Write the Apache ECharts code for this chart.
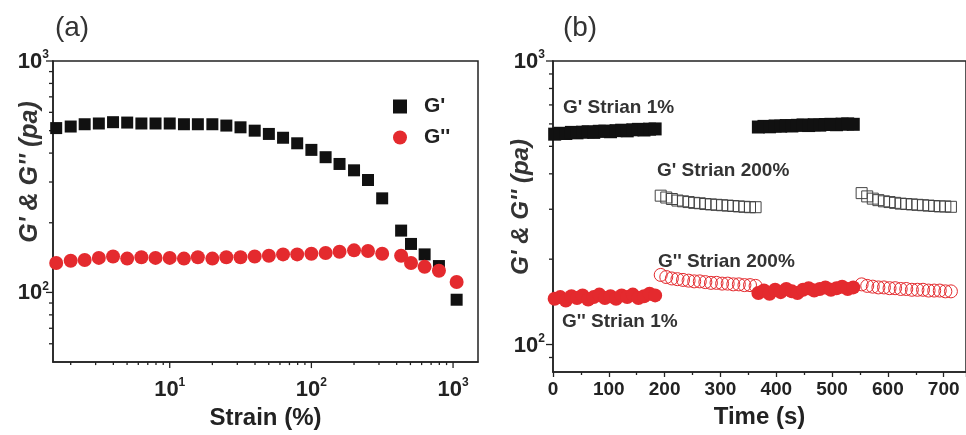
<!DOCTYPE html>
<html>
<head>
  <meta charset="utf-8" />
  <title>G' and G'' sweeps</title>
  <script src="https://cdn.jsdelivr.net/npm/echarts@6/dist/echarts.min.js"></script>
  <style>
    html, body { margin: 0; padding: 0; background: #fff; }
    #main { width: 966px; height: 435px; }
  </style>
</head>
<body>
  <div id="main"></div>
  <script type="text/javascript">
    // (a) strain sweep
    var strain = [1.58, 2.0, 2.51, 3.16, 3.98, 5.01, 6.31, 7.94, 10, 12.6, 15.8, 20, 25.1, 31.6, 39.8, 50.1, 63.1, 79.4, 100, 126, 158, 200, 251, 316, 430, 505, 630, 795, 1060];
    var gStorage = [513, 521, 533, 537, 544, 542, 537, 537, 537, 533, 533, 533, 526, 517, 500, 484, 466, 441, 413, 384, 359, 337, 306, 255, 185, 162, 146, 130, 93];
    var gLoss = [134, 137, 138, 141, 143, 140, 142, 141, 141, 140, 142, 140, 142, 142, 143, 144, 146, 146, 147, 148, 150, 152, 151, 147, 144, 134, 129, 124, 111];

    // (b) step strain, time in s
    var tSeg1 = [3, 13, 23, 33, 43, 53, 63, 73, 83, 93, 103, 113, 123, 133, 143, 153, 163, 173, 183];
    var tSeg2 = [193, 203, 213, 223, 233, 243, 253, 263, 273, 283, 293, 303, 313, 323, 333, 343, 353, 363];
    var tSeg3 = [368, 378, 388, 398, 408, 418, 428, 438, 448, 458, 468, 478, 488, 498, 508, 518, 528, 538];
    var tSeg4 = [553, 563, 573, 583, 593, 603, 613, 623, 633, 643, 653, 663, 673, 683, 693, 703, 713];

    var gp1a = [552, 556, 555, 560, 558, 561, 563, 560, 565, 566, 563, 568, 570, 567, 572, 574, 571, 575, 576];
    var gp200a = [335, 330, 326, 322, 320, 318, 316, 315, 313, 312, 311, 310, 309, 308, 307, 306, 305, 305];
    var gp1b = [585, 588, 586, 590, 589, 592, 590, 593, 595, 592, 596, 594, 597, 598, 596, 599, 600, 598];
    var gp200b = [342, 333, 327, 323, 320, 318, 316, 314, 313, 312, 311, 310, 309, 308, 307, 307, 306];

    var gpp1a = [145, 147, 143, 148, 146, 149, 144, 147, 150, 146, 148, 145, 149, 147, 150, 146, 148, 151, 149];
    var gpp200a = [176, 173, 171, 170, 169, 168, 167, 167, 166, 165, 165, 164, 164, 163, 163, 162, 162, 161];
    var gpp1b = [152, 155, 151, 156, 153, 157, 154, 152, 156, 158, 155, 157, 159, 156, 158, 160, 157, 159];
    var gpp200b = [163, 161, 160, 159, 159, 158, 158, 157, 157, 156, 156, 156, 155, 155, 155, 154, 154];

    // log axis ticks (drawn by hand, echarts log minor ticks are linear)
    var majorA_x = [10, 100, 1000];
    var minorA_x = [2, 3, 4, 5, 6, 7, 8, 9, 20, 30, 40, 50, 60, 70, 80, 90, 200, 300, 400, 500, 600, 700, 800, 900];
    var majorA_y = [100, 1000];
    var minorA_y = [60, 70, 80, 90, 200, 300, 400, 500, 600, 700, 800, 900];
    var majorB_y = [100, 1000];
    var minorB_y = [90, 200, 300, 400, 500, 600, 700, 800, 900];

    var FONT = '"Liberation Sans", Arial, sans-serif';
    var RED = '#e42a2e';

    function zip(xs, ys) {
      return xs.map(function (x, i) { return [x, ys[i]]; });
    }

    // tick item: [x, y, length, dir]  dir 0 = down, 1 = left
    function tickItems(vals, at, len, isX) {
      return vals.map(function (v) { return isX ? [v, at, len, 0] : [at, v, len, 1]; });
    }

    function renderTick(params, api) {
      var p = api.coord([api.value(0), api.value(1)]);
      var len = api.value(2);
      var down = api.value(3) === 0;
      return {
        type: 'line',
        shape: down ? {x1: p[0], y1: p[1], x2: p[0], y2: p[1] + len} : {x1: p[0], y1: p[1], x2: p[0] - len, y2: p[1]},
        style: {stroke: '#222', lineWidth: 1.3}
      };
    }

    function powLabel(v) {
      var n = Math.round(Math.log(v) / Math.LN10);
      return '{b|10}{s|' + n + '}';
    }
    var powRich = {
      b: {fontSize: 22, fontWeight: 'bold', fontFamily: FONT, color: '#222', verticalAlign: 'bottom', lineHeight: 24},
      s: {fontSize: 12, fontWeight: 'bold', fontFamily: FONT, color: '#222', verticalAlign: 'top', lineHeight: 24}
    };

    function filled(color) { return {color: color, opacity: 1}; }
    function hollow(color) { return {color: 'rgba(0,0,0,0)', borderColor: color, borderWidth: 1, opacity: 1}; }

    var myChart = echarts.init(document.getElementById('main'), null, {renderer: 'canvas'});

    var option = {
      animation: false,
      backgroundColor: '#fff',
      grid: [
        {left: 53, top: 61, width: 425, height: 311, show: true, borderColor: '#222', borderWidth: 1.5, backgroundColor: 'transparent'},
        {left: 553, top: 61, width: 418, height: 311, show: true, borderColor: '#222', borderWidth: 1.5, backgroundColor: 'transparent'}
      ],
      xAxis: [
        {
          type: 'log', gridIndex: 0, min: 1.5, max: 1500, logBase: 10,
          name: 'Strain (%)', nameLocation: 'middle', nameGap: 39,
          nameTextStyle: {fontSize: 24, fontWeight: 'bold', fontFamily: FONT, color: '#222'},
          axisLine: {lineStyle: {color: '#222', width: 1.5}},
          axisTick: {show: false}, splitLine: {show: false},
          axisLabel: {margin: 15, showMinLabel: false, showMaxLabel: false, formatter: powLabel, rich: powRich}
        },
        {
          type: 'value', gridIndex: 1, min: 0, max: 740, interval: 100,
          name: 'Time (s)', nameLocation: 'middle', nameGap: 33,
          nameTextStyle: {fontSize: 24, fontWeight: 'bold', fontFamily: FONT, color: '#222'},
          axisLine: {lineStyle: {color: '#222', width: 1.5}},
          axisTick: {length: 5, lineStyle: {color: '#222', width: 1.3}},
          minorTick: {show: true, splitNumber: 2, length: 3, lineStyle: {color: '#222', width: 1.3}},
          splitLine: {show: false},
          axisLabel: {margin: 8, showMaxLabel: false, fontSize: 19, fontWeight: 'bold', fontFamily: FONT, color: '#222'}
        }
      ],
      yAxis: [
        {
          type: 'log', gridIndex: 0, min: 50, max: 1000, logBase: 10,
          axisLine: {lineStyle: {color: '#222', width: 1.5}},
          axisTick: {show: false}, splitLine: {show: false},
          axisLabel: {margin: 4, showMinLabel: false, formatter: powLabel, rich: powRich}
        },
        {
          type: 'log', gridIndex: 1, min: 80, max: 1000, logBase: 10,
          axisLine: {lineStyle: {color: '#222', width: 1.5}},
          axisTick: {show: false}, splitLine: {show: false},
          axisLabel: {margin: 8, showMinLabel: false, formatter: powLabel, rich: powRich}
        }
      ],
      legend: {
        data: ["G'", "G''"], orient: 'vertical', left: 388, top: 91, itemGap: 10,
        itemWidth: 14, itemHeight: 14,
        textStyle: {fontSize: 21, fontWeight: 'bold', fontFamily: FONT, color: '#222', padding: [0, 0, 0, 12]}
      },
      graphic: [
        {type: 'text', x: 72, y: 28, style: {text: '(a)', font: '28px ' + FONT, fill: '#333', textAlign: 'center', textVerticalAlign: 'middle'}},
        {type: 'text', x: 580, y: 28, style: {text: '(b)', font: '28px ' + FONT, fill: '#333', textAlign: 'center', textVerticalAlign: 'middle'}},
        {type: 'text', x: 30, y: 172, rotation: Math.PI / 2, style: {text: "G' & G'' (pa)", font: 'italic bold 25px ' + FONT, fill: '#333', textAlign: 'center', textVerticalAlign: 'middle'}},
        {type: 'text', x: 521, y: 207, rotation: Math.PI / 2, style: {text: "G' & G'' (pa)", font: 'italic bold 24px ' + FONT, fill: '#333', textAlign: 'center', textVerticalAlign: 'middle'}},
        {type: 'text', x: 563, y: 108, style: {text: "G' Strian 1%", font: 'bold 19px ' + FONT, fill: '#333', textVerticalAlign: 'middle'}},
        {type: 'text', x: 657, y: 171, style: {text: "G' Strian 200%", font: 'bold 19px ' + FONT, fill: '#333', textVerticalAlign: 'middle'}},
        {type: 'text', x: 658, y: 262, style: {text: "G'' Strian 200%", font: 'bold 19px ' + FONT, fill: '#333', textVerticalAlign: 'middle'}},
        {type: 'text', x: 562, y: 322, style: {text: "G'' Strian 1%", font: 'bold 19px ' + FONT, fill: '#333', textVerticalAlign: 'middle'}}
      ],
      series: [
        {name: "G'", type: 'scatter', xAxisIndex: 0, yAxisIndex: 0, symbol: 'rect', symbolSize: 12, itemStyle: filled('#111'), data: zip(strain, gStorage)},
        {name: "G''", type: 'scatter', xAxisIndex: 0, yAxisIndex: 0, symbol: 'circle', symbolSize: 14, itemStyle: filled(RED), data: zip(strain, gLoss)},

        {type: 'scatter', xAxisIndex: 1, yAxisIndex: 1, symbol: 'rect', symbolSize: 13, itemStyle: filled('#111'), data: zip(tSeg1, gp1a)},
        {type: 'scatter', xAxisIndex: 1, yAxisIndex: 1, symbol: 'rect', symbolSize: 11, itemStyle: hollow('#444'), data: zip(tSeg2, gp200a)},
        {type: 'scatter', xAxisIndex: 1, yAxisIndex: 1, symbol: 'rect', symbolSize: 13, itemStyle: filled('#111'), data: zip(tSeg3, gp1b)},
        {type: 'scatter', xAxisIndex: 1, yAxisIndex: 1, symbol: 'rect', symbolSize: 11, itemStyle: hollow('#444'), data: zip(tSeg4, gp200b)},
        {type: 'scatter', xAxisIndex: 1, yAxisIndex: 1, symbol: 'circle', symbolSize: 14, itemStyle: filled(RED), data: zip(tSeg1, gpp1a)},
        {type: 'scatter', xAxisIndex: 1, yAxisIndex: 1, symbol: 'circle', symbolSize: 13, itemStyle: hollow(RED), data: zip(tSeg2, gpp200a)},
        {type: 'scatter', xAxisIndex: 1, yAxisIndex: 1, symbol: 'circle', symbolSize: 14, itemStyle: filled(RED), data: zip(tSeg3, gpp1b)},
        {type: 'scatter', xAxisIndex: 1, yAxisIndex: 1, symbol: 'circle', symbolSize: 13, itemStyle: hollow(RED), data: zip(tSeg4, gpp200b)},

        {type: 'custom', xAxisIndex: 0, yAxisIndex: 0, silent: true, renderItem: renderTick,
          data: tickItems(majorA_x, 50, 6, true).concat(tickItems(minorA_x, 50, 3, true), tickItems(majorA_y, 1.5, 7, false), tickItems(minorA_y, 1.5, 4, false))},
        {type: 'custom', xAxisIndex: 1, yAxisIndex: 1, silent: true, renderItem: renderTick,
          data: tickItems(majorB_y, 0, 7, false).concat(tickItems(minorB_y, 0, 4, false))}
      ]
    };

    myChart.setOption(option);
  </script>
</body>
</html>
